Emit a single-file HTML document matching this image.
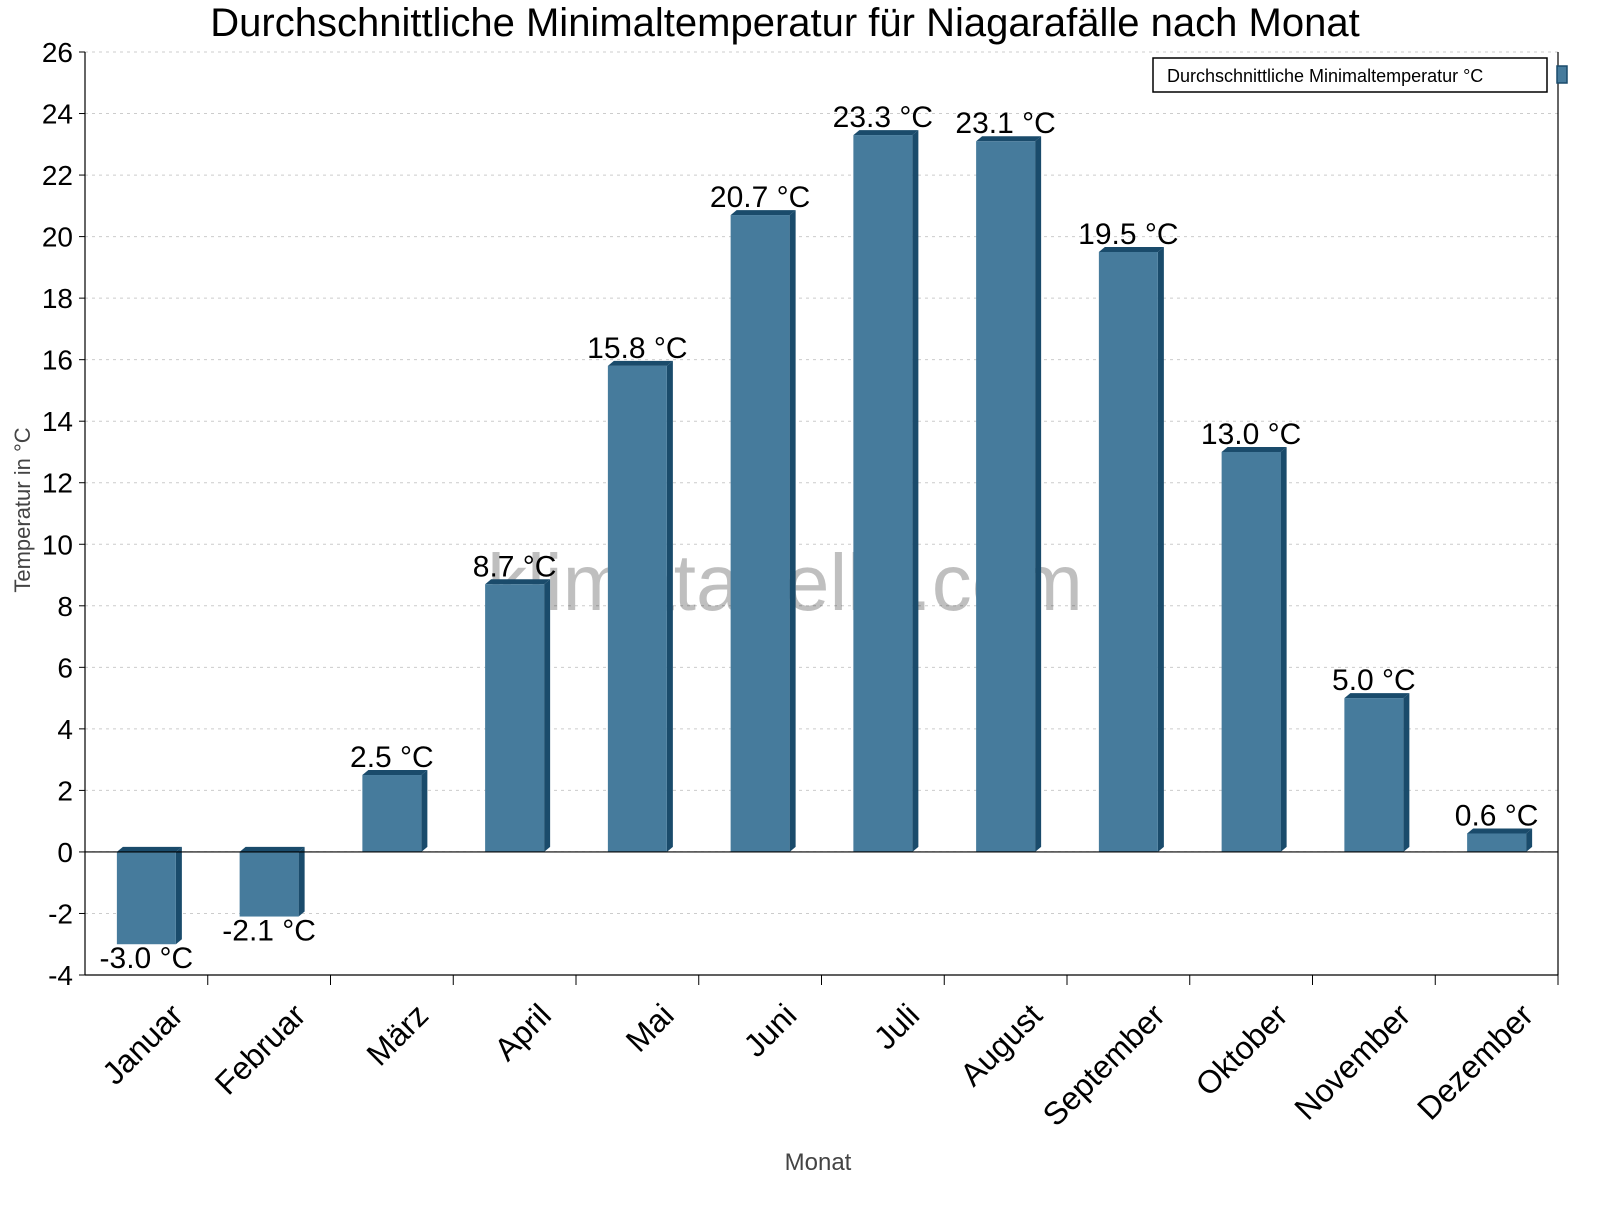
<!DOCTYPE html>
<html><head><meta charset="utf-8"><style>
body{margin:0;background:#fff;font-family:"Liberation Sans",sans-serif}
</style></head><body>
<svg id="c" width="1600" height="1200" xmlns="http://www.w3.org/2000/svg" font-family="Liberation Sans, sans-serif">
<rect width="1600" height="1200" fill="#fff"/>
<text x="785" y="36" font-size="40" text-anchor="middle" fill="#000">Durchschnittliche Minimaltemperatur für Niagarafälle nach Monat</text>
<g id="grid"></g>
<text x="785" y="610" font-size="80" text-anchor="middle" fill="#000" fill-opacity="0.25">klimatabelle.com</text>
<g id="bars"></g>
<g id="axes"></g>
<text transform="translate(30,510) rotate(-90)" font-size="22" text-anchor="middle" fill="#444">Temperatur in °C</text>
<text x="818" y="1170" font-size="24" text-anchor="middle" fill="#444">Monat</text>
<g>
<rect x="1153" y="58" width="394" height="34" fill="#fff" stroke="#000" stroke-width="1.5"/>
<text x="1167" y="82" font-size="18" fill="#000">Durchschnittliche Minimaltemperatur °C</text>
<rect x="1557" y="66" width="10" height="17" fill="#467b9c" stroke="#1a4b6b" stroke-width="1.5"/>
</g>
</svg>
<script>
const categories=["Januar","Februar","März","April","Mai","Juni","Juli","August","September","Oktober","November","Dezember"];
const values=[-3.0,-2.1,2.5,8.7,15.8,20.7,23.3,23.1,19.5,13.0,5.0,0.6];
const yTicks=[-4,-2,0,2,4,6,8,10,12,14,16,18,20,22,24,26];
const NS="http://www.w3.org/2000/svg";
const L=85,R=1558,T=52,B=975,yMin=-4,yMax=26;
const y=v=>B-(v-yMin)/(yMax-yMin)*(B-T);
const bw=(R-L)/categories.length;
const xc=i=>L+bw*(i+0.5);
function mk(t,a,p){const e=document.createElementNS(NS,t);for(const k in a)e.setAttribute(k,a[k]);p.appendChild(e);return e;}
const grid=document.getElementById('grid'),bars=document.getElementById('bars'),axes=document.getElementById('axes');
yTicks.forEach(v=>{
  const g=mk('line',{x1:L,x2:R,y1:y(v),y2:y(v),stroke:'#ccc','stroke-dasharray':'3,4'},grid);
  
  
  const t=mk('text',{x:L-12,y:y(v)+10,'font-size':28,'text-anchor':'end',fill:'#000'},axes);
  t.textContent=v;
  
  
  mk('line',{x1:L-6,x2:L,y1:y(v),y2:y(v),stroke:'#000'},axes);
});
const W=59,D=6;
values.forEach((v,i)=>{
  const g=mk('g',{},bars);
  
  
  const x0=xc(i)-W/2, top=Math.min(y(v),y(0)), bot=Math.max(y(v),y(0));
  mk('polygon',{points:`${x0+W},${top} ${x0+W+D},${top-5} ${x0+W+D},${bot-5} ${x0+W},${bot}`,fill:'#1a4b6b'},g);
  mk('polygon',{points:`${x0},${top} ${x0+D},${top-5} ${x0+W+D},${top-5} ${x0+W},${top}`,fill:'#1a4b6b'},g);
  mk('rect',{x:x0,y:top,width:W,height:bot-top,fill:'#467b9c'},g);
  const t=mk('text',{x:xc(i),y:v>=0?y(v)-8:y(v)+24,'font-size':30,'text-anchor':'middle',fill:'#000'},g);
  t.textContent=v.toFixed(1)+' °C';
  
  
  const lx=xc(i)+18, ly=B+22;
  const c=mk('text',{transform:`translate(${lx},${ly}) rotate(-45)`,'font-size':32,'text-anchor':'end',dy:'0.9em',fill:'#000'},axes);
  c.textContent=categories[i];
  
  
  mk('line',{x1:L+bw*(i+1),x2:L+bw*(i+1),y1:B,y2:B+10,stroke:'#000'},axes);
});
mk('line',{x1:L,x2:R,y1:y(0),y2:y(0),stroke:'#000','stroke-width':1.2},axes);
mk('line',{x1:L,x2:L,y1:T,y2:B,stroke:'#000','stroke-width':1.2},axes);
mk('line',{x1:L,x2:R,y1:B,y2:B,stroke:'#000','stroke-width':1.2},axes);
mk('line',{x1:R,x2:R,y1:T,y2:B,stroke:'#000','stroke-width':1.2},axes);
</script>
</body></html>
